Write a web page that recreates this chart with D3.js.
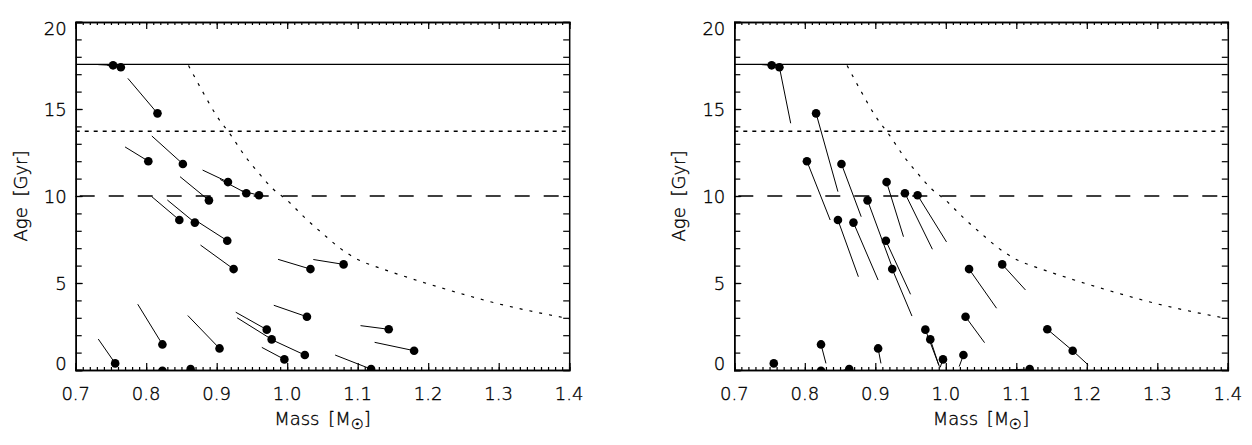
<!DOCTYPE html>
<html>
<head>
<meta charset="utf-8">
<script src="https://cdn.jsdelivr.net/npm/d3@7"></script>
<style>
  body { margin: 0; background: #fff; }
  text { font-family: "DejaVu Sans", sans-serif; font-weight: 200; fill: #000; stroke: #000; stroke-width: 0.35; }
</style>
</head>
<body>
<div id="chart"></div>
<script>
// star positions (same stars in both panels)
const starMass = [0.753, 0.764, 0.816, 0.803, 0.852, 0.889, 0.916, 0.942, 0.960, 0.847, 0.869, 0.915, 0.924, 1.033,
  1.080, 0.823, 0.756, 0.823, 0.863, 0.904, 0.971, 0.978, 1.025, 0.996, 1.028, 1.144, 1.180, 1.119];
const starAge = [17.51, 17.40, 14.75, 12.00, 11.84, 9.75, 10.80, 10.16, 10.04, 8.62, 8.47, 7.43, 5.80, 5.80,
  6.07, 1.47, 0.38, -0.05, 0.05, 1.24, 2.32, 1.76, 0.86, 0.61, 3.06, 2.34, 1.11, 0.05];

// other end of each track, left panel (null = no track drawn)
const leftEndMass = [0.732, 0.745, 0.774, 0.770, 0.808, 0.848, 0.880, 0.905, 0.935, 0.808, 0.830, 0.872, 0.877, 0.987,
  1.037, 0.788, 0.732, null, null, 0.859, 0.927, 0.929, 0.975, 0.964, 0.981, 1.104, 1.124, 1.068];
const leftEndAge = [17.55, 17.50, 16.76, 12.82, 13.45, 11.11, 11.49, 10.95, 10.30, 9.96, 9.77, 8.55, 7.18, 6.36,
  6.35, 3.78, 1.78, null, null, 3.13, 3.32, 3.00, 1.80, 1.30, 3.72, 2.55, 1.59, 0.86];

// other end of each track, right panel
const rightEndMass = [0.739, 0.780, 0.847, 0.836, 0.880, 0.924, 0.940, 0.981, 1.001, 0.876, 0.904, 0.950, 0.952, 1.072,
  1.113, 0.830, null, null, 0.855, 0.908, 0.991, 0.990, 1.019, 0.992, 1.055, 1.180, 1.202, 1.080];
const rightEndAge = [17.55, 14.18, 10.25, 8.62, 8.81, 5.90, 7.66, 6.94, 7.36, 5.36, 5.17, 4.35, 3.10, 3.55,
  4.60, 0.38, null, null, 0.00, 0.38, 0.19, 0.29, 0.20, 0.15, 1.57, 1.11, 0.29, 0.00];

// dotted limit curve
const curveMass = [0.860, 0.880, 0.900, 0.920, 0.940, 0.960, 0.980, 1.000, 1.025, 1.050, 1.075, 1.100, 1.125, 1.150,
  1.200, 1.250, 1.300, 1.350, 1.400];
const curveAge = [17.5, 16.0, 14.6, 13.5, 12.3, 11.3, 10.4, 9.75, 8.75, 7.85, 7.0, 6.35, 5.95, 5.6,
  4.95, 4.35, 3.8, 3.35, 2.95];

// horizontal reference ages
const refAges = [17.57, 13.72, 10.0];
const refDash = [null, "4,5", "15,14"];

const xTicks = [0.7, 0.8, 0.9, 1.0, 1.1, 1.2, 1.3, 1.4];
const yTicks = [0, 5, 10, 15, 20];

const W = 1252, H = 445;
const plotW = 493.5, plotTop = 22, plotBottom = 370;

const svg = d3.select("#chart").append("svg")
  .attr("width", W)
  .attr("height", H);

svg.append("rect").attr("width", W).attr("height", H).attr("fill", "#fff");

function drawPanel(id, left, endMass, endAge) {
  const x = d3.scaleLinear().domain([0.7, 1.4]).range([0, plotW]);
  const y = d3.scaleLinear().domain([0, 20]).range([plotBottom - plotTop, 0]);
  const h = plotBottom - plotTop;

  const g = svg.append("g").attr("transform", `translate(${left},${plotTop})`);

  g.append("clipPath").attr("id", "clip" + id)
    .append("rect").attr("width", plotW).attr("height", h);

  const inner = g.append("g").attr("clip-path", `url(#clip${id})`);

  // reference lines
  refAges.forEach((a, i) => {
    inner.append("line")
      .attr("x1", 0).attr("x2", plotW)
      .attr("y1", y(a)).attr("y2", y(a))
      .attr("stroke", "#000")
      .attr("stroke-width", 1.3)
      .attr("stroke-dasharray", refDash[i])
      .attr("stroke-dashoffset", i == 2 ? 25 : 0);
  });

  // limit curve
  const curve = d3.line().x((d, i) => x(curveMass[i])).y((d, i) => y(curveAge[i])).curve(d3.curveMonotoneX);
  inner.append("path")
    .attr("d", curve(curveMass))
    .attr("fill", "none")
    .attr("stroke", "#000")
    .attr("stroke-width", 1.2)
    .attr("stroke-dasharray", "3,7");

  // tracks
  starMass.forEach((m, i) => {
    if (endMass[i] === null) return;
    inner.append("line")
      .attr("x1", x(endMass[i])).attr("y1", y(endAge[i]))
      .attr("x2", x(m)).attr("y2", y(starAge[i]))
      .attr("stroke", "#000")
      .attr("stroke-width", 1);
  });

  inner.selectAll(".star").data(starMass).enter().append("circle")
    .attr("class", "star")
    .attr("cx", d => x(d))
    .attr("cy", (d, i) => y(starAge[i]))
    .attr("r", 4.3)
    .attr("fill", "#000");

  // axes: minor ticks every 0.01 / 1 Gyr, major ticks at labels
  const xMinor = d3.range(70, 141).map(v => v / 100);
  const yMinor = d3.range(0, 21);

  g.append("g").attr("transform", `translate(0,${h})`)
    .call(d3.axisTop(x).tickValues(xMinor).tickSize(3).tickFormat(""));
  g.append("g")
    .call(d3.axisBottom(x).tickValues(xMinor).tickSize(3).tickFormat(""));
  g.append("g").attr("transform", `translate(0,${h})`)
    .call(d3.axisTop(x).tickValues(xTicks).tickSize(7).tickFormat(""));
  g.append("g")
    .call(d3.axisBottom(x).tickValues(xTicks).tickSize(7).tickFormat(""));
  g.append("g")
    .call(d3.axisRight(y).tickValues(yMinor).tickSize(6).tickFormat(""));
  g.append("g").attr("transform", `translate(${plotW},0)`)
    .call(d3.axisLeft(y).tickValues(yMinor).tickSize(6).tickFormat(""));
  g.append("g")
    .call(d3.axisRight(y).tickValues(yTicks).tickSize(7).tickFormat(""));

  g.selectAll(".domain, .tick line").attr("stroke", "#000").attr("stroke-width", 1.2);
  g.selectAll(".domain").attr("stroke-width", 1.5);

  // tick labels
  g.selectAll(".xlab").data(xTicks).enter().append("text")
    .attr("class", "xlab")
    .attr("x", d => x(d))
    .attr("y", h + 30)
    .attr("text-anchor", "middle")
    .attr("font-size", 18)
    .text(d3.format(".1f"));

  g.selectAll(".ylab").data(yTicks).enter().append("text")
    .attr("class", "ylab")
    .attr("x", -9)
    .attr("y", d => Math.min(Math.max(y(d), 6.5), h - 6.5) + 6.5)
    .attr("text-anchor", "end")
    .attr("font-size", 18)
    .text(d => d);

  // axis titles
  const xt = g.append("text")
    .attr("x", plotW / 2)
    .attr("y", h + 55)
    .attr("text-anchor", "middle")
    .attr("font-size", 18)
    .attr("word-spacing", 3)
    .text("Mass [M");
  xt.append("tspan").attr("font-size", 14).attr("dy", 4).text("\u2609");
  xt.append("tspan").attr("dy", -4).text("]");

  g.append("text")
    .attr("transform", `translate(${-49},${h / 2}) rotate(-90)`)
    .attr("text-anchor", "middle")
    .attr("font-size", 18)
    .attr("word-spacing", 5)
    .text("Age [Gyr]");
}

drawPanel("L", 75.7, leftEndMass, leftEndAge);
drawPanel("R", 734.3, rightEndMass, rightEndAge);
</script>
</body>
</html>
